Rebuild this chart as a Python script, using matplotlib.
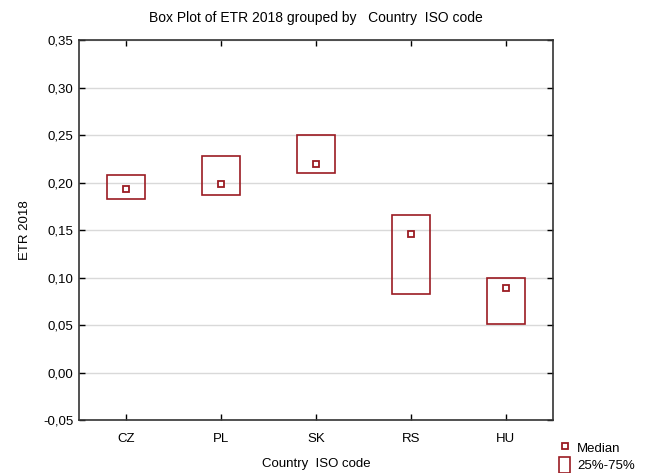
import matplotlib.pyplot as plt
from matplotlib.patches import Rectangle
from matplotlib.lines import Line2D

plt.rcParams["font.family"] = ["Liberation Sans", "DejaVu Sans"]
plt.rcParams["font.size"] = 9.5

countries = ["CZ", "PL", "SK", "RS", "HU"]
q25 = [0.183, 0.187, 0.210, 0.083, 0.051]
q75 = [0.208, 0.228, 0.250, 0.166, 0.100]
median = [0.193, 0.198, 0.219, 0.146, 0.089]

red = "#9b1b22"
box_w = 0.4

fig = plt.figure(figsize=(6.47, 4.73), dpi=100)
ax = fig.add_axes([0.1221, 0.112, 0.7326, 0.8034])

for i, c in enumerate(countries):
    x = i + 1
    ax.add_patch(Rectangle((x - box_w / 2, q25[i]), box_w, q75[i] - q25[i],
                           fill=False, edgecolor=red, linewidth=1.2, zorder=3))
ax.plot(range(1, len(countries) + 1), median, linestyle="none", marker="s",
        markersize=5, markerfacecolor="white", markeredgecolor=red,
        markeredgewidth=1.3, zorder=4)

ax.set_xlim(0.5, 5.5)
ax.set_ylim(-0.05, 0.35)
ax.set_xticks(range(1, len(countries) + 1))
ax.set_xticklabels(countries)
yt = [-0.05 + 0.05 * k for k in range(9)]
ax.set_yticks(yt)
ax.set_yticklabels([f"{v:.2f}".replace(".", ",").replace("-0,00", "0,00") for v in yt])
ax.tick_params(direction="in", top=True, right=True, length=4, width=1)
ax.tick_params(axis="x", pad=9)
ax.tick_params(axis="y", pad=4)
ax.yaxis.grid(True, color="#d9d9d9", linewidth=1)
ax.set_axisbelow(True)
for s in ax.spines.values():
    s.set_linewidth(1.2)
    s.set_color("#333333")

ax.set_title("Box Plot of ETR 2018 grouped by   Country  ISO code", fontsize=10, pad=13)
ax.set_xlabel("Country  ISO code", labelpad=10)
ax.set_ylabel("ETR 2018", labelpad=9)

handles = [
    Line2D([], [], linestyle="none", marker="s", markersize=5, markerfacecolor="white",
           markeredgecolor=red, markeredgewidth=1.3),
    Rectangle((0, 0), 1, 1, fill=False, edgecolor=red, linewidth=1.2),
]
fig.legend(handles, ["Median", "25%-75%"], loc="lower left", bbox_to_anchor=(0.845, -0.025),
           frameon=False, handlelength=0.9, handleheight=1.5, handletextpad=0.5,
           labelspacing=0.05, fontsize=9.5)

fig.savefig("out.png", dpi=100)
